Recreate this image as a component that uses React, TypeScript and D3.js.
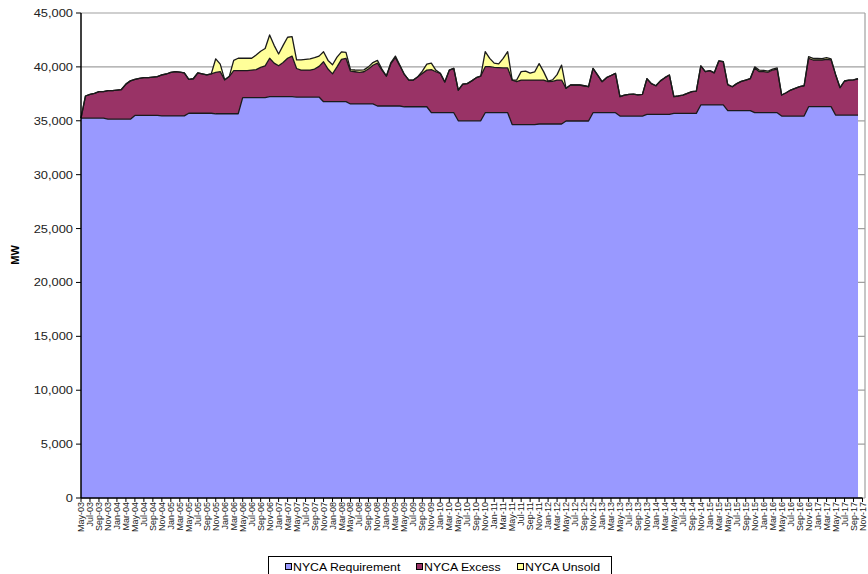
import React from "react";
import * as d3 from "d3";

const CATEGORIES: string[] = (
  "May-03 Jun-03 Jul-03 Aug-03 Sep-03 Oct-03 Nov-03 Dec-03 " +
  "Jan-04 Feb-04 Mar-04 Apr-04 May-04 Jun-04 Jul-04 Aug-04 Sep-04 Oct-04 Nov-04 Dec-04 " +
  "Jan-05 Feb-05 Mar-05 Apr-05 May-05 Jun-05 Jul-05 Aug-05 Sep-05 Oct-05 Nov-05 Dec-05 " +
  "Jan-06 Feb-06 Mar-06 Apr-06 May-06 Jun-06 Jul-06 Aug-06 Sep-06 Oct-06 Nov-06 Dec-06 " +
  "Jan-07 Feb-07 Mar-07 Apr-07 May-07 Jun-07 Jul-07 Aug-07 Sep-07 Oct-07 Nov-07 Dec-07 " +
  "Jan-08 Feb-08 Mar-08 Apr-08 May-08 Jun-08 Jul-08 Aug-08 Sep-08 Oct-08 Nov-08 Dec-08 " +
  "Jan-09 Feb-09 Mar-09 Apr-09 May-09 Jun-09 Jul-09 Aug-09 Sep-09 Oct-09 Nov-09 Dec-09 " +
  "Jan-10 Feb-10 Mar-10 Apr-10 May-10 Jun-10 Jul-10 Aug-10 Sep-10 Oct-10 Nov-10 Dec-10 " +
  "Jan-11 Feb-11 Mar-11 Apr-11 May-11 Jun-11 Jul-11 Aug-11 Sep-11 Oct-11 Nov-11 Dec-11 " +
  "Jan-12 Feb-12 Mar-12 Apr-12 May-12 Jun-12 Jul-12 Aug-12 Sep-12 Oct-12 Nov-12 Dec-12 " +
  "Jan-13 Feb-13 Mar-13 Apr-13 May-13 Jun-13 Jul-13 Aug-13 Sep-13 Oct-13 Nov-13 Dec-13 " +
  "Jan-14 Feb-14 Mar-14 Apr-14 May-14 Jun-14 Jul-14 Aug-14 Sep-14 Oct-14 Nov-14 Dec-14 " +
  "Jan-15 Feb-15 Mar-15 Apr-15 May-15 Jun-15 Jul-15 Aug-15 Sep-15 Oct-15 Nov-15 Dec-15 " +
  "Jan-16 Feb-16 Mar-16 Apr-16 May-16 Jun-16 Jul-16 Aug-16 Sep-16 Oct-16 Nov-16 Dec-16 " +
  "Jan-17 Feb-17 Mar-17 Apr-17 May-17 Jun-17 Jul-17 Aug-17 Sep-17 Oct-17 Nov-17"
).split(" ");

const REQUIREMENT: number[] = [
  35250, 35250, 35250, 35250, 35250, 35250,
  35150, 35150, 35150, 35150, 35150, 35150,
  35500, 35500, 35500, 35500, 35500, 35500,
  35450, 35450, 35450, 35450, 35450, 35450,
  35700, 35700, 35700, 35700, 35700, 35700,
  35650, 35650, 35650, 35650, 35650, 35650,
  37150, 37150, 37150, 37150, 37150, 37150,
  37250, 37250, 37250, 37250, 37250, 37250,
  37200, 37200, 37200, 37200, 37200, 37200,
  36770, 36770, 36770, 36770, 36770, 36770,
  36560, 36560, 36560, 36560, 36560, 36560,
  36370, 36370, 36370, 36370, 36370, 36370,
  36300, 36300, 36300, 36300, 36300, 36300,
  35750, 35750, 35750, 35750, 35750, 35750,
  35000, 35000, 35000, 35000, 35000, 35000,
  35750, 35750, 35750, 35750, 35750, 35750,
  34650, 34650, 34650, 34650, 34650, 34650,
  34700, 34700, 34700, 34700, 34700, 34700,
  34980, 34980, 34980, 34980, 34980, 34980,
  35750, 35750, 35750, 35750, 35750, 35750,
  35440, 35440, 35440, 35440, 35440, 35440,
  35590, 35590, 35590, 35590, 35590, 35590,
  35690, 35690, 35690, 35690, 35690, 35690,
  36470, 36470, 36470, 36470, 36470, 36470,
  35940, 35940, 35940, 35940, 35940, 35940,
  35750, 35750, 35750, 35750, 35750, 35750,
  35440, 35440, 35440, 35440, 35440, 35440,
  36310, 36310, 36310, 36310, 36310, 36310,
  35530, 35530, 35530, 35530, 35530, 35530,
];

const EXCESS: number[] = [
  0, 2050, 2200, 2300, 2450, 2450,
  2640, 2640, 2700, 2750, 3250, 3550,
  3350, 3440, 3500, 3500, 3550, 3600,
  3800, 3890, 4050, 4110, 4070, 4000,
  3150, 3200, 3750, 3650, 3550, 3650,
  3850, 3910, 3150, 3450, 4000, 4000,
  2500, 2500, 2550, 2600, 2800, 2950,
  3550, 3100, 2850, 3150, 3550, 3750,
  2650, 2500, 2500, 2500, 2600, 2850,
  3710, 3030, 2580, 3230, 3930, 4030,
  3040, 2990, 2940, 2990, 3240, 3590,
  3980, 3330, 2780, 3930, 4480, 3730,
  3000, 2480, 2480, 2790, 3100, 3400,
  4000, 3800, 3650, 2850, 3950, 4115,
  2850, 3400, 3450, 3700, 4000, 4150,
  4270, 4270, 4200, 4180, 4150, 4150,
  4130, 3980, 4130, 4130, 4130, 4130,
  4080, 4080, 3930, 3950, 4080, 4080,
  3030, 3340, 3340, 3340, 3270, 3180,
  4115, 3500, 2880, 3250, 3450, 3650,
  1800, 1950, 2010, 2040, 1960, 2010,
  3310, 2860, 2660, 3110, 3410, 3660,
  1550, 1610, 1700, 1860, 2010, 2070,
  3630, 3085, 3180, 2980, 4075, 4010,
  2410, 2220, 2510, 2710, 2840, 2960,
  4150, 3805, 3805, 3750, 3960, 4050,
  1950, 2160, 2410, 2570, 2720, 2810,
  4480, 4330, 4330, 4330, 4390, 4340,
  3770, 2540, 3160, 3250, 3270, 3370,
];

const UNSOLD: number[] = [
  0, 0, 0, 0, 0, 0,
  0, 0, 0, 0, 0, 0,
  0, 0, 0, 0, 0, 0,
  0, 0, 0, 0, 0, 0,
  0, 0, 0, 0, 0, 0,
  1250, 690, 0, 0, 950, 1150,
  1150, 1150, 1100, 1350, 1500, 1600,
  2160, 1650, 1100, 1600, 1950, 1800,
  800, 950, 1000, 1050, 1050, 950,
  920, 800, 850, 900, 700, 550,
  150, 160, 200, 170, 200, 250,
  250, 100, 0, 100, 150, 50,
  0, 0, 0, 0, 200, 550,
  600, 150, 0, 0, 0, 0,
  0, 0, 0, 0, 0, 0,
  1390, 770, 400, 350, 890, 1510,
  0, 150, 780, 820, 650, 750,
  1520, 780, 50, 150, 500, 1390,
  0, 0, 0, 0, 0, 0,
  0, 0, 0, 0, 0, 0,
  0, 0, 0, 0, 0, 0,
  0, 0, 0, 0, 0, 0,
  0, 0, 0, 0, 0, 0,
  0, 0, 0, 0, 0, 0,
  0, 0, 0, 0, 0, 0,
  100, 145, 125, 100, 90, 100,
  0, 0, 0, 0, 0, 0,
  160, 150, 140, 120, 150, 100,
  0, 0, 0, 0, 0, 0,
];

const Y_TICKS: number[] = [0, 5000, 10000, 15000, 20000, 25000, 30000, 35000, 40000, 45000];
const SERIES_NAMES: string[] = ["NYCA Requirement", "NYCA Excess", "NYCA Unsold"];
const SERIES_COLORS: string[] = ["#9999FF", "#993366", "#FFFF99"];
const Y_TITLE = "MW";

const W = 868;
const H = 574;
const FONT = "'Liberation Sans', Arial, sans-serif";

export default function App() {
  const left = 81;
  const top = 13;
  const bottom = 498;
  const axisRight = 862.5;
  const frameRight = 865;

  const x = d3.scalePoint<string>().domain(CATEGORIES).range([left, axisRight]);
  const y = d3.scaleLinear().domain([0, 45000]).range([bottom, top]);

  const rows = REQUIREMENT.map((r, i) => ({
    cat: CATEGORIES[i],
    req: r,
    exc: EXCESS[i],
    uns: UNSOLD[i],
  }));
  const keys = ["req", "exc", "uns"];
  const stacked = d3.stack<any>().keys(keys)(rows);

  const area = d3
    .area<any>()
    .x((d: any) => x(d.data.cat) as number)
    .y0((d: any) => y(d[0]))
    .y1((d: any) => y(d[1]));
  const topLine = d3
    .line<any>()
    .x((d: any) => x(d.data.cat) as number)
    .y((d: any) => y(d[1]));

  const tickCats = CATEGORIES.filter((_, i) => i % 2 === 0);
  const fmt = d3.format(",");

  const legendItems = [
    { sq: 285, tx: 293 },
    { sq: 416, tx: 424 },
    { sq: 517, tx: 525 },
  ];

  return (
    <svg
      width={W}
      height={H}
      style={{ position: "absolute", left: 0, top: 0, background: "#fff" }}
      xmlns="http://www.w3.org/2000/svg"
    >
      <rect x={0} y={0} width={W} height={H} fill="#fff" />
      {/* gridlines */}
      {Y_TICKS.map((t) => (
        <line
          key={"g" + t}
          x1={left}
          x2={frameRight}
          y1={y(t)}
          y2={y(t)}
          stroke="#a0a0a0"
          strokeWidth={1.2}
        />
      ))}
      <line x1={frameRight} x2={frameRight} y1={top} y2={bottom} stroke="#a0a0a0" strokeWidth={1.2} />
      {/* areas */}
      {stacked.map((s, i) => (
        <path key={"a" + i} d={area(s as any) || ""} fill={SERIES_COLORS[i]} stroke="none" />
      ))}
      {stacked.map((s, i) => (
        <path
          key={"l" + i}
          d={topLine(s as any) || ""}
          fill="none"
          stroke="#1a1a1a"
          strokeWidth={1.3}
          strokeLinejoin="round"
        />
      ))}
      {/* axes */}
      <line x1={left} x2={left} y1={top} y2={bottom} stroke="#000" strokeWidth={1.5} />
      <line x1={left} x2={axisRight} y1={bottom} y2={bottom} stroke="#000" strokeWidth={1.5} />
      {Y_TICKS.map((t) => (
        <g key={"yt" + t}>
          <line x1={left - 5} x2={left} y1={y(t)} y2={y(t)} stroke="#000" strokeWidth={1} />
          <text
            transform={`translate(${73},${y(t) + 4}) scale(1.12,1)`}
            textAnchor="end"
            fontFamily={FONT}
            fontSize={11.5}
            fill="#222"
          >
            {fmt(t)}
          </text>
        </g>
      ))}
      {tickCats.map((c) => (
        <g key={"xt" + c}>
          <line
            x1={x(c) as number}
            x2={x(c) as number}
            y1={bottom}
            y2={bottom + 4}
            stroke="#000"
            strokeWidth={1}
          />
          <text
            transform={`translate(${(x(c) as number) + 3},${bottom + 4}) rotate(-90)`}
            textAnchor="end"
            fontFamily={FONT}
            fontSize={9}
            fill="#222"
          >
            {c}
          </text>
        </g>
      ))}
      <text
        transform={`translate(19,255) rotate(-90)`}
        textAnchor="middle"
        fontFamily={FONT}
        fontSize={11}
        fontWeight="bold"
        fill="#000"
      >
        {Y_TITLE}
      </text>
      {/* legend */}
      <rect x={268.5} y={556.5} width={343} height={30} fill="#fff" stroke="#000" strokeWidth={1} />
      {SERIES_NAMES.map((n, i) => (
        <g key={"lg" + i}>
          <rect
            x={legendItems[i].sq + 0.5}
            y={563.5}
            width={6}
            height={6}
            fill={SERIES_COLORS[i]}
            stroke="#000"
            strokeWidth={1}
          />
          <text
            transform={`translate(${legendItems[i].tx},${570.5}) scale(1.12,1)`}
            fontFamily={FONT}
            fontSize={11}
            fill="#000"
          >
            {n}
          </text>
        </g>
      ))}
    </svg>
  );
}
